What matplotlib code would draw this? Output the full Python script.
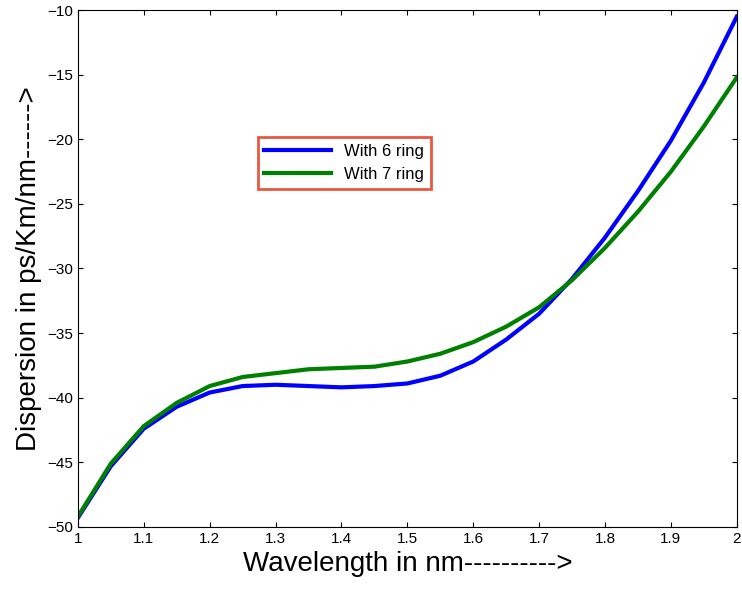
import matplotlib
matplotlib.use("Agg")
import matplotlib.pyplot as plt
import numpy as np

plt.rcParams['font.family'] = ['Liberation Sans', 'DejaVu Sans']

wavelength = [1.0,1.05,1.1,1.15,1.2,1.25,1.3,1.35,1.4,1.45,1.5,1.55,1.6,1.65,1.7,1.75,1.8,1.85,1.9,1.95,2.0]
ring6 = [-49.3,-45.3,-42.4,-40.7,-39.6,-39.1,-39.0,-39.1,-39.2,-39.1,-38.9,-38.3,-37.2,-35.5,-33.5,-30.8,-27.6,-24.0,-20.1,-15.6,-10.5]
ring7 = [-49.2,-45.1,-42.2,-40.4,-39.1,-38.4,-38.1,-37.8,-37.7,-37.6,-37.2,-36.6,-35.7,-34.5,-33.0,-30.9,-28.4,-25.6,-22.5,-19.0,-15.2]

fig = plt.figure(figsize=(7.42,5.96), dpi=100)
ax = fig.add_axes([0.105,0.116,0.888,0.867])
ax.plot(wavelength, ring6, color='#0000ff', lw=3, label='With 6 ring')
ax.plot(wavelength, ring7, color='#008000', lw=3, label='With 7 ring')
ax.set_xlim(1,2); ax.set_ylim(-50,-10)
ax.set_xticks(np.arange(1,2.01,0.1)); ax.set_xticklabels(['1','1.1','1.2','1.3','1.4','1.5','1.6','1.7','1.8','1.9','2'])
ax.set_yticks(range(-50,-9,5))
ax.tick_params(direction='in', top=True, right=True, labelsize=11)
ax.set_xlabel('Wavelength in nm---------->', fontsize=20)
ax.set_ylabel('Dispersion in ps/Km/nm------>', fontsize=20)
leg = ax.legend(loc='upper left', bbox_to_anchor=(0.26, 0.77), fontsize=12, fancybox=False, handlelength=4)
leg.get_frame().set_edgecolor('#e03010'); leg.get_frame().set_linewidth(2)
fig.savefig('out.png')
